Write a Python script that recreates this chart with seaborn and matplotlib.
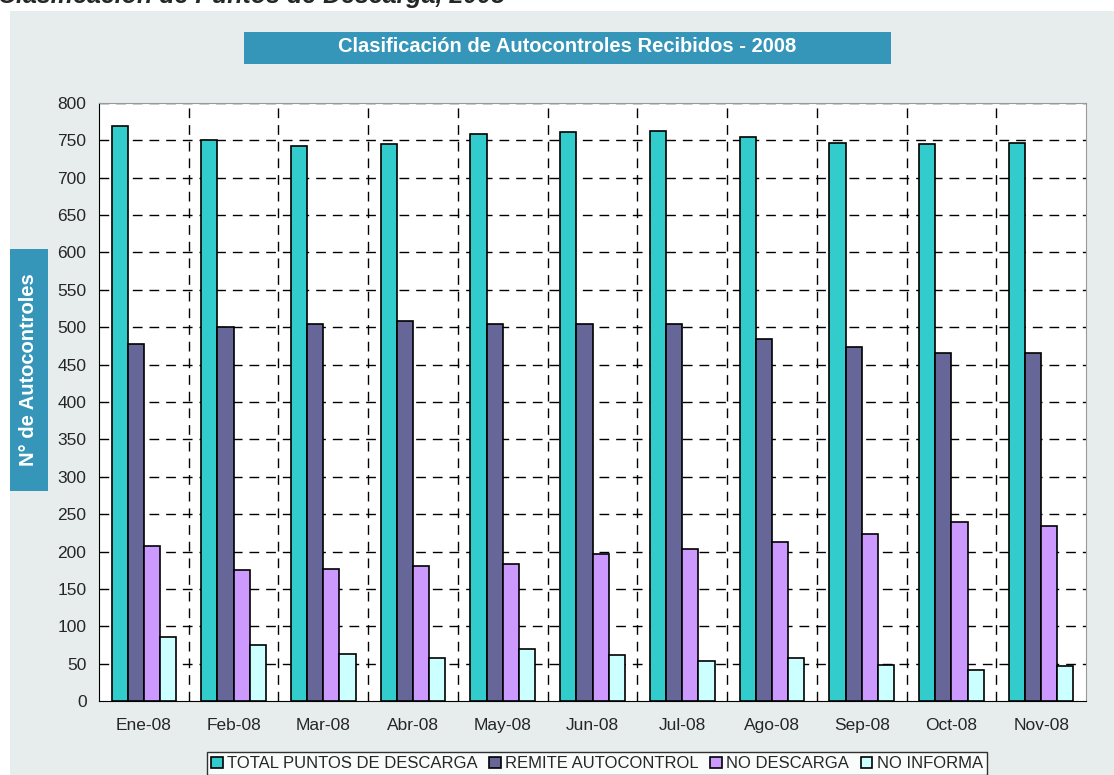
import pandas as pd
import numpy as np
import matplotlib
matplotlib.use("Agg")
import matplotlib.pyplot as plt
import seaborn as sns
from matplotlib.patches import Rectangle

meses = ["Ene-08", "Feb-08", "Mar-08", "Abr-08", "May-08", "Jun-08",
         "Jul-08", "Ago-08", "Sep-08", "Oct-08", "Nov-08"]
total_puntos = [769, 750, 742, 745, 758, 761, 762, 754, 746, 745, 746]
remite_autocontrol = [477, 501, 504, 508, 505, 505, 505, 484, 474, 466, 465]
no_descarga = [207, 175, 176, 180, 183, 196, 204, 213, 224, 239, 234]
no_informa = [86, 75, 63, 57, 69, 61, 54, 58, 48, 41, 47]

series = ["TOTAL PUNTOS DE DESCARGA", "REMITE AUTOCONTROL", "NO DESCARGA", "NO INFORMA"]
colores = ["#33CCCC", "#666699", "#CC99FF", "#CCFFFF"]

df = pd.DataFrame({
    "Mes": meses * 4,
    "Serie": [s for s in series for _ in meses],
    "Valor": total_puntos + remite_autocontrol + no_descarga + no_informa,
})

sns.set_style("white")
plt.rcParams["font.family"] = ["Liberation Sans", "DejaVu Sans"]

fig = plt.figure(figsize=(11.14, 7.75), dpi=100)
fig.patch.set_facecolor("white")
# gray panel behind the chart
fig.patches.append(Rectangle((10 / 1114, 0), 1 - 10 / 1114, 1 - 11 / 775,
                             transform=fig.transFigure, facecolor="#E7EDED",
                             edgecolor="none", zorder=-10))

ax = fig.add_axes([99 / 1114, 74 / 775, 987 / 1114, 598 / 775])
sns.barplot(data=df, x="Mes", y="Valor", hue="Serie", palette=colores,
            width=0.72, gap=0, edgecolor="black", linewidth=1.2,
            saturation=1, ax=ax, zorder=3)

ax.set_ylim(0, 800)
ax.set_xlim(-0.5, len(meses) - 0.5)
ax.set_yticks(range(0, 801, 50))
ax.set_facecolor("white")

# grid
for v in range(50, 801, 50):
    ax.axhline(v, color="black", lw=1, ls=(0, (7, 5)), zorder=1)
for b in np.arange(0.5, len(meses) - 0.5, 1):
    ax.axvline(b, color="black", lw=1, ls=(0, (7, 5)), zorder=1)

ax.set_xticks(np.arange(-0.5, len(meses), 1), minor=True)
ax.tick_params(axis="x", which="major", length=0, pad=12, labelsize=12.5)
ax.tick_params(axis="x", which="minor", length=5, direction="out", width=1)
ax.tick_params(axis="y", length=5, direction="out", width=1, labelsize=12.5, pad=4)
ax.set_xlabel("")
ax.set_ylabel("")

for side in ["top", "right"]:
    ax.spines[side].set_color("#999999")
for side in ["left", "bottom"]:
    ax.spines[side].set_color("black")

# legend
leg = ax.legend(loc="upper left", bbox_to_anchor=(108 / 987, -51 / 598),
                ncol=4, frameon=True, fontsize=12, handlelength=0.7,
                handleheight=0.7, handletextpad=0.25, columnspacing=0.7,
                borderpad=0.25, fancybox=False, borderaxespad=0)
leg.get_frame().set_edgecolor("black")
leg.get_frame().set_facecolor("white")
leg.get_frame().set_linewidth(1)

# title box
fig.text((244 + 891) / 2 / 1114, 1 - 47 / 775,
         "Clasificación de Autocontroles Recibidos - 2008",
         ha="center", va="center", color="white", fontsize=14.5, fontweight="bold")
fig.patches.append(Rectangle((244 / 1114, 1 - 64 / 775), 647 / 1114, 32 / 775,
                             transform=fig.transFigure, facecolor="#3596BA",
                             edgecolor="none", zorder=-5))

# y label box
fig.patches.append(Rectangle((10 / 1114, 1 - 491 / 775), 38 / 1114, 242 / 775,
                             transform=fig.transFigure, facecolor="#3596BA",
                             edgecolor="none", zorder=-5))
fig.text(29 / 1114, 1 - 370 / 775, "N° de Autocontroles", rotation=90,
         ha="center", va="center", color="white", fontsize=14.5, fontweight="bold")

# cut-off heading at top of page
fig.text(-2 / 1114, 1 - 2.5 / 775, "Clasificación de Puntos de Descarga, 2008",
         ha="left", va="baseline", fontsize=18, fontweight="bold", style="italic")

fig.savefig("out.png", dpi=100)
